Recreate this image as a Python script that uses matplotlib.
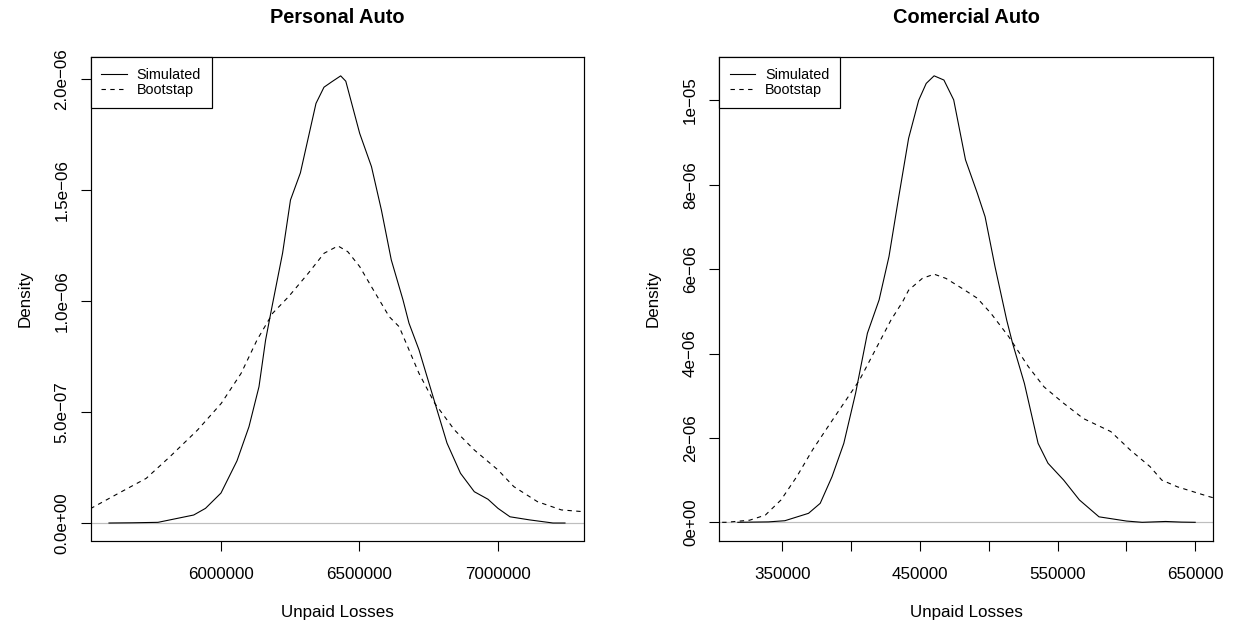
import matplotlib
matplotlib.use('Agg')
import matplotlib.pyplot as plt

plt.rcParams['font.family'] = ['Liberation Sans', 'DejaVu Sans']

# Personal Auto densities (x in dollars, y in 1e-6 density units)
pa_sim_x = [5596750, 5680000, 5773650, 5902530, 5945130, 6001080, 6058840, 6102160, 6138260, 6162090,
            6185190, 6223500, 6251980, 6287720, 6344040, 6372920, 6401800, 6433210, 6451620, 6501800,
            6544400, 6580140, 6615880, 6658100, 6679800, 6715900, 6759200, 6817000, 6865700, 6915520,
            6964980, 7001080, 7044400, 7115150, 7199630, 7242950]
pa_sim_y = [0.0, 0.001, 0.003, 0.036, 0.066, 0.135, 0.28, 0.434, 0.614, 0.824,
            0.974, 1.216, 1.455, 1.577, 1.89, 1.963, 1.988, 2.014, 1.99, 1.755,
            1.605, 1.41, 1.185, 1.005, 0.9, 0.78, 0.6, 0.36, 0.224, 0.141,
            0.107, 0.066, 0.028, 0.014, 0.0, 0.0]
pa_boot_x = [5500000, 5531800, 5631400, 5731050, 5817000, 5916600, 6002170, 6073650, 6131050, 6187740,
             6244760, 6316250, 6373290, 6423470, 6458850, 6501800, 6544400, 6608660, 6644400, 6715880,
             6772920, 6844050, 6915520, 7001080, 7058130, 7143690, 7229630, 7309410, 7350000]
pa_boot_y = [0.05, 0.066, 0.134, 0.201, 0.299, 0.419, 0.539, 0.674, 0.824, 0.945,
             1.019, 1.125, 1.215, 1.248, 1.222, 1.155, 1.064, 0.929, 0.884, 0.674,
             0.539, 0.419, 0.329, 0.239, 0.164, 0.096, 0.059, 0.051, 0.048]

# Comercial Auto densities
ca_sim_x = [317760, 340000, 351960, 369100, 377600, 386160, 394730, 403300, 411870, 420370,
            427560, 434680, 441800, 449100, 454580, 460310, 467430, 474540, 483110, 491680,
            497350, 504530, 513040, 517320, 525890, 535840, 543020, 554420, 565830, 580060,
            600030, 611430, 628490, 639900, 649920]
ca_sim_y = [0.0, 0.01, 0.038, 0.213, 0.45, 1.08, 1.87, 3.06, 4.48, 5.27,
            6.3, 7.72, 9.1, 10.0, 10.4, 10.58, 10.48, 10.01, 8.59, 7.8,
            7.24, 6.06, 4.79, 4.24, 3.29, 1.87, 1.4, 1.0, 0.53, 0.13,
            0.03, 0.0, 0.02, 0.005, 0.0]
ca_boot_x = [300000, 309190, 326330, 337730, 349130, 360530, 371930, 383330, 394730, 406130,
             417540, 428940, 437500, 441800, 451750, 460310, 468880, 480280, 491680, 501630,
             514480, 528720, 540120, 554420, 568660, 588630, 602880, 617110, 625670, 637080,
             659880, 670000]
ca_boot_y = [0.0, 0.0, 0.05, 0.17, 0.53, 1.08, 1.71, 2.27, 2.82, 3.37,
             4.08, 4.79, 5.23, 5.5, 5.78, 5.88, 5.78, 5.55, 5.31, 4.95,
             4.4, 3.69, 3.21, 2.82, 2.46, 2.15, 1.71, 1.32, 1.0, 0.84,
             0.61, 0.52]

pa_xticks = [6000000, 6500000, 7000000]
pa_xlabels = ['6000000', '6500000', '7000000']
pa_yticks = [0, 5e-7, 1e-6, 1.5e-6, 2e-6]
pa_ylabels = ['0.0e+00', '5.0e\u221207', '1.0e\u221206', '1.5e\u221206', '2.0e\u221206']
ca_xticks = [350000, 400000, 450000, 500000, 550000, 600000, 650000]
ca_xlabels = ['350000', '', '450000', '', '550000', '', '650000']
ca_yticks = [0, 2e-6, 4e-6, 6e-6, 8e-6, 1e-5]
ca_ylabels = ['0e+00', '2e\u221206', '4e\u221206', '6e\u221206', '8e\u221206', '1e\u221205']

W, H, DPI = 1236, 627, 72
fig = plt.figure(figsize=(W / DPI, H / DPI), dpi=DPI)


def draw_panel(rect, title, sim_x, sim_y, boot_x, boot_y, yscale, xlim, ylim,
               xticks, xlabels, yticks, ylabels):
    ax = fig.add_axes(rect)
    ax.axhline(0, color='#BEBEBE', lw=1.2, zorder=1)
    ax.plot(sim_x, [v * yscale for v in sim_y], color='black', lw=1.1, label='Simulated', zorder=2)
    ax.plot(boot_x, [v * yscale for v in boot_y], color='black', lw=1.1, dashes=(4, 4),
            label='Bootstap', zorder=2)
    ax.set_xlim(*xlim)
    ax.set_ylim(*ylim)
    ax.set_xticks(xticks)
    ax.set_xticklabels(xlabels)
    ax.set_yticks(yticks)
    ax.set_yticklabels(ylabels, rotation=90, va='center')
    ax.tick_params(axis='both', direction='out', length=10, width=1.1, labelsize=17)
    ax.tick_params(axis='x', pad=16.5)
    ax.tick_params(axis='y', pad=11)
    for s in ax.spines.values():
        s.set_linewidth(1.2)
        s.set_color('black')
    ax.set_title(title, fontsize=20, fontweight='bold', pad=33.7)
    ax.set_xlabel('Unpaid Losses', fontsize=17, labelpad=23)
    ax.set_ylabel('Density', fontsize=17, labelpad=22)
    leg = ax.legend(loc='upper left', fontsize=14.4, frameon=True, fancybox=False,
                    borderaxespad=0, handlelength=1.75, handletextpad=0.7,
                    borderpad=0.75, labelspacing=0.1)
    leg.get_frame().set_edgecolor('black')
    leg.get_frame().set_linewidth(1.2)
    leg.get_frame().set_alpha(1)
    return ax


bottom = 1 - 540.5 / H
height = (540.5 - 57) / H
draw_panel([90.5 / W, bottom, (584 - 90.5) / W, height], 'Personal Auto',
           pa_sim_x, pa_sim_y, pa_boot_x, pa_boot_y, 1e-6,
           (5530000, 7311600), (-0.0788e-6, 2.099e-6),
           pa_xticks, pa_xlabels, pa_yticks, pa_ylabels)
draw_panel([719 / W, bottom, (1213 - 719) / W, height], 'Comercial Auto',
           ca_sim_x, ca_sim_y, ca_boot_x, ca_boot_y, 1e-6,
           (304100, 662850), (-0.431e-6, 11.026e-6),
           ca_xticks, ca_xlabels, ca_yticks, ca_ylabels)

fig.savefig('out.png', dpi=DPI)
